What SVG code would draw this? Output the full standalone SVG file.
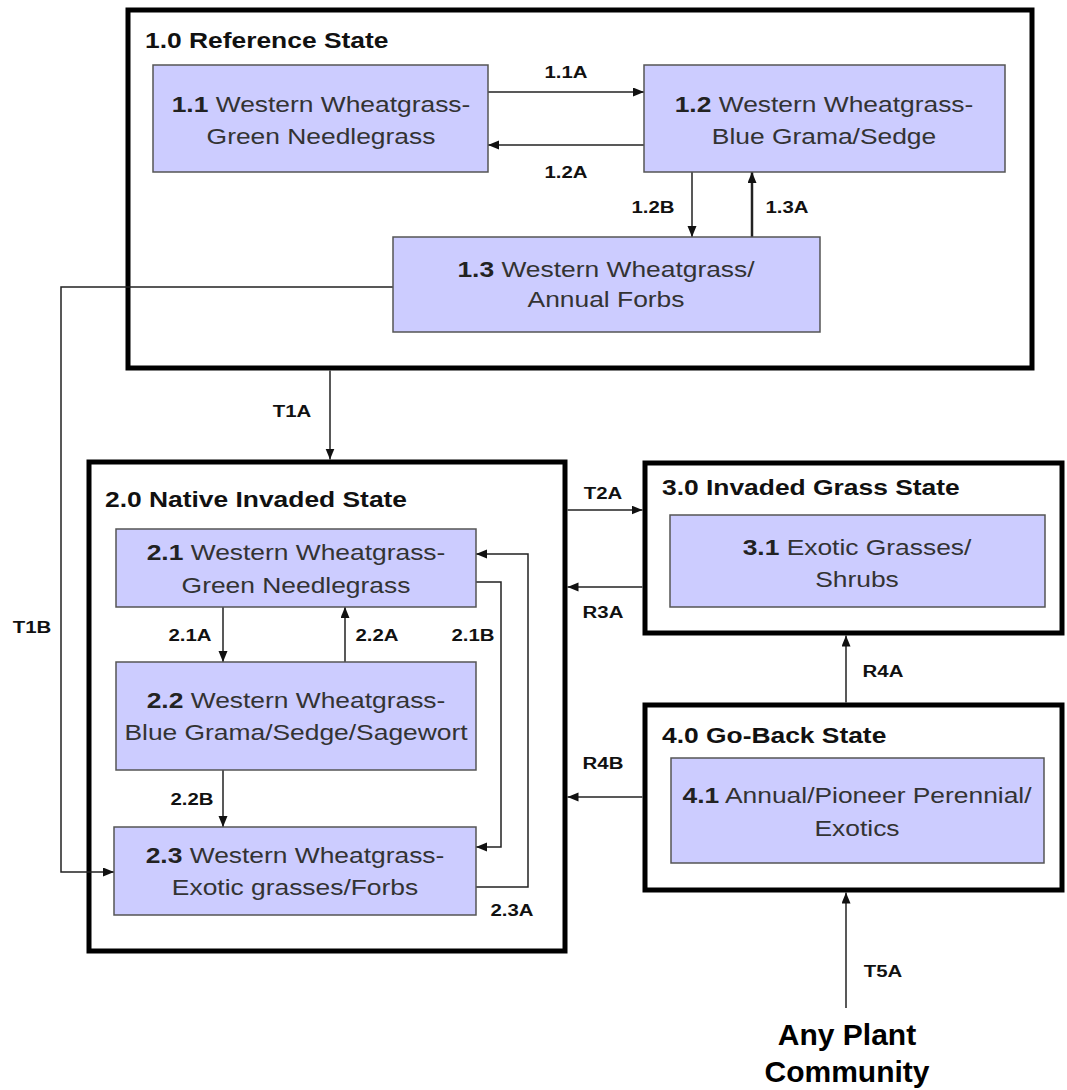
<svg xmlns="http://www.w3.org/2000/svg" width="1067" height="1090" viewBox="0 0 1067 1090">
<style>
.state{fill:#fff;stroke:#000;stroke-width:5}
.box{fill:#ccccff;stroke:#555;stroke-width:1.5}
.t{font-family:"Liberation Sans",Arial,sans-serif;font-size:22px;fill:#333;text-anchor:middle}
.b{font-weight:bold;fill:#222}
.title{font-family:"Liberation Sans",Arial,sans-serif;font-size:22px;font-weight:bold;fill:#111}
.lbl{font-family:"Liberation Sans",Arial,sans-serif;font-size:17px;font-weight:bold;fill:#111;text-anchor:middle}
.c{fill:none;stroke:#222;stroke-width:1.5;marker-end:url(#ah)}
.big{font-family:"Liberation Sans",Arial,sans-serif;font-size:30px;font-weight:bold;fill:#000;text-anchor:middle}
</style>
<defs>
<marker id="ah" markerUnits="userSpaceOnUse" markerWidth="12" markerHeight="10" refX="11" refY="4.5" orient="auto">
<path d="M0,0 L11,4.5 L0,9 z" fill="#111"/>
</marker>
</defs>
<rect width="1067" height="1090" fill="#fff"/>

<g id="state1">
<rect class="state" x="128" y="10" width="904" height="358"/>
<text class="title" transform="translate(145,48) scale(1.2,1)">1.0 Reference State</text>
</g>
<g id="state2">
<rect class="state" x="89" y="462" width="476" height="489"/>
<text class="title" transform="translate(105,507) scale(1.2,1)">2.0 Native Invaded State</text>
</g>
<g id="state3">
<rect class="state" x="645" y="463" width="417" height="170"/>
<text class="title" transform="translate(662,495) scale(1.2,1)">3.0 Invaded Grass State</text>
</g>
<g id="state4">
<rect class="state" x="645" y="705" width="417" height="185"/>
<text class="title" transform="translate(662,743) scale(1.2,1)">4.0 Go-Back State</text>
</g>

<g id="connectors">
<path class="c" d="M488,92 H644"/>
<path class="c" d="M644,145 H488"/>
<path class="c" d="M692,172 V237"/>
<path class="c" d="M752,237 V172" style="stroke-width:2.5"/>
<path class="c" d="M393,287 H61 V872 H114"/>
<path class="c" d="M330,370.5 V459.5"/>
<path class="c" d="M567.5,510 H642.5"/>
<path class="c" d="M642.5,587 H567.5"/>
<path class="c" d="M846,702.5 V635.5"/>
<path class="c" d="M642.5,797 H567.5"/>
<path class="c" d="M846,1008 V892.5"/>
<path class="c" d="M223,607 V662"/>
<path class="c" d="M345,662 V607"/>
<path class="c" d="M223,770 V827"/>
<path class="c" d="M476,582 H501 V847 H476"/>
<path class="c" d="M476,887 H528 V554 H476"/>
<text class="lbl" transform="translate(566,78) scale(1.2,1)">1.1A</text>
<text class="lbl" transform="translate(566,178) scale(1.2,1)">1.2A</text>
<text class="lbl" transform="translate(653,213) scale(1.2,1)">1.2B</text>
<text class="lbl" transform="translate(787,213) scale(1.2,1)">1.3A</text>
<text class="lbl" transform="translate(292,417) scale(1.2,1)">T1A</text>
<text class="lbl" transform="translate(32,633) scale(1.2,1)">T1B</text>
<text class="lbl" transform="translate(190,641) scale(1.2,1)">2.1A</text>
<text class="lbl" transform="translate(377,641) scale(1.2,1)">2.2A</text>
<text class="lbl" transform="translate(473,641) scale(1.2,1)">2.1B</text>
<text class="lbl" transform="translate(192,805) scale(1.2,1)">2.2B</text>
<text class="lbl" transform="translate(512,916) scale(1.2,1)">2.3A</text>
<text class="lbl" transform="translate(603,499) scale(1.2,1)">T2A</text>
<text class="lbl" transform="translate(603,618) scale(1.2,1)">R3A</text>
<text class="lbl" transform="translate(883,677) scale(1.2,1)">R4A</text>
<text class="lbl" transform="translate(603,769) scale(1.2,1)">R4B</text>
<text class="lbl" transform="translate(883,977) scale(1.2,1)">T5A</text>
</g>

<g id="n1_1">
<rect class="box" x="153" y="65" width="335" height="107"/>
<text class="t" transform="translate(321,112) scale(1.2,1)"><tspan class="b">1.1</tspan> Western Wheatgrass-</text>
<text class="t" transform="translate(321,144) scale(1.2,1)">Green Needlegrass</text>
</g>
<g id="n1_2">
<rect class="box" x="644" y="65" width="361" height="107"/>
<text class="t" transform="translate(824,112) scale(1.2,1)"><tspan class="b">1.2</tspan> Western Wheatgrass-</text>
<text class="t" transform="translate(824,144) scale(1.2,1)">Blue Grama/Sedge</text>
</g>
<g id="n1_3">
<rect class="box" x="393" y="237" width="427" height="95"/>
<text class="t" transform="translate(606,277) scale(1.2,1)"><tspan class="b">1.3</tspan> Western Wheatgrass/</text>
<text class="t" transform="translate(606,307) scale(1.2,1)">Annual Forbs</text>
</g>
<g id="n2_1">
<rect class="box" x="116" y="529" width="360" height="78"/>
<text class="t" transform="translate(296,560) scale(1.2,1)"><tspan class="b">2.1</tspan> Western Wheatgrass-</text>
<text class="t" transform="translate(296,593) scale(1.2,1)">Green Needlegrass</text>
</g>
<g id="n2_2">
<rect class="box" x="116" y="662" width="360" height="108"/>
<text class="t" transform="translate(296,708) scale(1.2,1)"><tspan class="b">2.2</tspan> Western Wheatgrass-</text>
<text class="t" transform="translate(296,740) scale(1.2,1)">Blue Grama/Sedge/Sagewort</text>
</g>
<g id="n2_3">
<rect class="box" x="114" y="827" width="362" height="88"/>
<text class="t" transform="translate(295,863) scale(1.2,1)"><tspan class="b">2.3</tspan> Western Wheatgrass-</text>
<text class="t" transform="translate(295,895) scale(1.2,1)">Exotic grasses/Forbs</text>
</g>
<g id="n3_1">
<rect class="box" x="670" y="515" width="375" height="92"/>
<text class="t" transform="translate(857,555) scale(1.2,1)"><tspan class="b">3.1</tspan> Exotic Grasses/</text>
<text class="t" transform="translate(857,587) scale(1.2,1)">Shrubs</text>
</g>
<g id="n4_1">
<rect class="box" x="671" y="758" width="373" height="105"/>
<text class="t" transform="translate(857,803) scale(1.2,1)"><tspan class="b">4.1</tspan> Annual/Pioneer Perennial/</text>
<text class="t" transform="translate(857,836) scale(1.2,1)">Exotics</text>
</g>
<g id="any">
<text class="big" x="847" y="1045">Any Plant</text>
<text class="big" x="847" y="1082">Community</text>
</g>
</svg>
